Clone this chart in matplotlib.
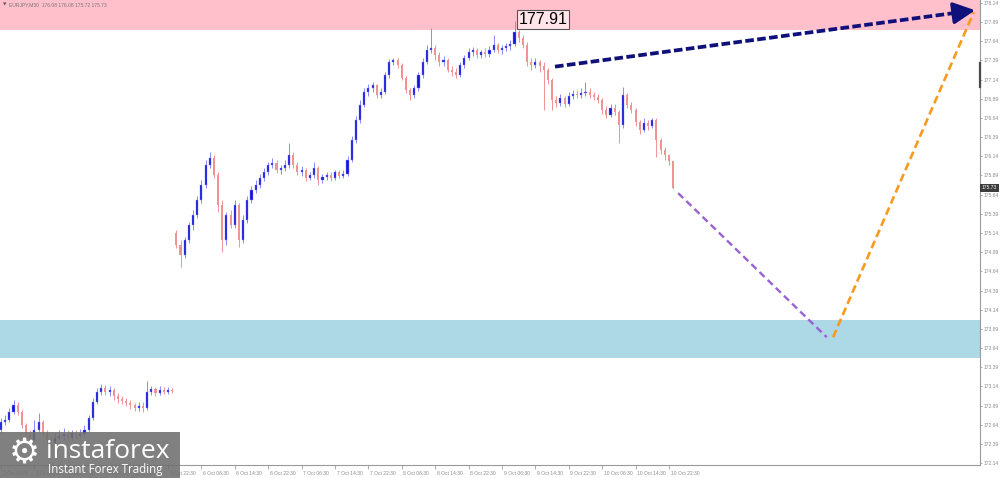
import numpy as np
import matplotlib
matplotlib.use("Agg")
import matplotlib.pyplot as plt
from matplotlib.patches import Rectangle
from matplotlib.transforms import blended_transform_factory, offset_copy

header_text = "EURJPY,M30  176.08 176.08 175.72 175.73"

# hourly bars; bar 0 = 3 Oct 22:30, bars before it are Thursday/Friday
friday_open = 172.57
friday_close = [172.67, 172.70, 172.81, 172.90, 172.81, 172.64, 172.53, 172.44, 172.57, 172.67,
                172.53, 172.44, 172.40, 172.47, 172.49, 172.52, 172.47, 172.53, 172.49, 172.52,
                172.57, 172.73, 172.94, 173.07, 173.12, 173.07, 173.09, 173.01, 172.97, 172.95,
                172.92, 172.90, 172.86, 172.88, 172.86, 173.07, 173.11, 173.05, 173.09, 173.07,
                173.09, 173.08]
friday_high = [172.73, 172.77, 172.86, 172.96, 172.94, 172.83, 172.66, 172.57, 172.70, 172.79,
               172.70, 172.57, 172.49, 172.53, 172.57, 172.60, 172.57, 172.57, 172.57, 172.58,
               172.64, 172.77, 172.99, 173.12, 173.17, 173.16, 173.14, 173.12, 173.05, 173.01,
               172.99, 172.96, 172.92, 172.94, 172.94, 173.21, 173.14, 173.13, 173.14, 173.13,
               173.13, 173.12]
friday_low = [172.53, 172.64, 172.67, 172.78, 172.77, 172.60, 172.49, 172.40, 172.41, 172.54,
              172.49, 172.39, 172.35, 172.38, 172.44, 172.44, 172.43, 172.44, 172.45, 172.47,
              172.48, 172.54, 172.70, 172.91, 173.03, 173.03, 173.01, 172.96, 172.92, 172.91,
              172.88, 172.85, 172.82, 172.82, 172.81, 172.83, 173.03, 173.01, 173.03, 173.04,
              173.04, 173.05]

# 6 Oct 00:30 onwards (gap up on Monday open)
week_open = 175.14
week_close = [174.98, 174.85, 175.05, 175.24, 175.38, 175.57, 175.77, 176.03, 176.12, 175.90,
              175.51, 175.05, 175.38, 175.24, 175.51, 175.05, 175.31, 175.57, 175.70, 175.77,
              175.86, 175.94, 176.03, 176.05, 175.96, 175.99, 176.03, 176.16, 176.03, 175.94,
              175.96, 175.86, 175.90, 175.99, 175.83, 175.87, 175.90, 175.86, 175.94, 175.88,
              175.91, 176.09, 176.35, 176.61, 176.81, 176.98, 177.03, 177.07, 176.94, 176.98,
              177.20, 177.37, 177.40, 177.33, 177.16, 177.01, 176.94, 177.03, 177.20, 177.37,
              177.53, 177.55, 177.46, 177.37, 177.40, 177.27, 177.24, 177.20, 177.33, 177.42,
              177.50, 177.53, 177.46, 177.50, 177.47, 177.53, 177.59, 177.53, 177.55, 177.58,
              177.61, 177.76, 177.68, 177.59, 177.37, 177.33, 177.37, 177.32, 177.27, 177.14,
              176.88, 176.84, 176.90, 176.82, 176.93, 176.95, 176.94, 176.97, 176.98, 176.94,
              176.91, 176.88, 176.74, 176.68, 176.77, 176.72, 176.55, 176.94, 176.81, 176.74,
              176.59, 176.48, 176.58, 176.54, 176.61, 176.35, 176.22, 176.16, 176.08, 175.73]
week_high = [175.18, 175.05, 175.09, 175.28, 175.44, 175.62, 175.83, 176.09, 176.20, 176.16,
             175.94, 175.57, 175.41, 175.44, 175.57, 175.53, 175.38, 175.62, 175.75, 175.83,
             175.91, 175.99, 176.07, 176.12, 176.09, 176.03, 176.09, 176.31, 176.20, 176.07,
             176.01, 175.99, 175.94, 176.07, 176.01, 175.91, 175.94, 175.94, 175.96, 175.96,
             175.96, 176.14, 176.41, 176.67, 176.88, 177.03, 177.08, 177.11, 177.08, 177.03,
             177.24, 177.41, 177.42, 177.42, 177.36, 177.19, 177.03, 177.07, 177.24, 177.42,
             177.59, 177.81, 177.59, 177.50, 177.45, 177.42, 177.32, 177.29, 177.37, 177.46,
             177.55, 177.57, 177.55, 177.53, 177.55, 177.58, 177.72, 177.62, 177.59, 177.62,
             177.66, 177.91, 177.79, 177.72, 177.63, 177.42, 177.42, 177.40, 177.37, 177.29,
             177.16, 176.93, 176.95, 176.93, 176.98, 177.01, 177.01, 177.03, 177.11, 177.03,
             176.98, 176.95, 176.90, 176.80, 176.82, 176.82, 176.74, 177.04, 176.97, 176.85,
             176.77, 176.61, 176.64, 176.61, 176.64, 176.64, 176.38, 176.26, 176.17, 176.08]
week_low = [174.94, 174.70, 174.81, 175.01, 175.18, 175.34, 175.53, 175.73, 175.99, 175.86,
            175.41, 174.89, 174.98, 175.21, 175.21, 174.96, 175.01, 175.27, 175.53, 175.66,
            175.73, 175.82, 175.90, 175.99, 175.92, 175.91, 175.95, 175.99, 175.99, 175.90,
            175.88, 175.82, 175.83, 175.86, 175.77, 175.79, 175.83, 175.82, 175.83, 175.86,
            175.86, 175.88, 176.07, 176.31, 176.58, 176.78, 176.93, 176.98, 176.90, 176.90,
            176.95, 177.16, 177.33, 177.29, 177.14, 176.97, 176.88, 176.90, 176.99, 177.16,
            177.34, 177.49, 177.40, 177.32, 177.32, 177.24, 177.19, 177.16, 177.17, 177.29,
            177.40, 177.45, 177.42, 177.42, 177.44, 177.44, 177.50, 177.49, 177.47, 177.51,
            177.53, 177.58, 177.63, 177.55, 177.32, 177.27, 177.29, 177.24, 176.74, 177.08,
            176.74, 176.78, 176.80, 176.78, 176.80, 176.89, 176.90, 176.90, 176.93, 176.90,
            176.88, 176.84, 176.69, 176.64, 176.65, 176.68, 176.31, 176.51, 176.77, 176.71,
            176.54, 176.43, 176.46, 176.48, 176.51, 176.13, 176.17, 176.09, 176.03, 175.72]

# resistance / support zones
resist_zone = (177.79, 178.25)
support_zone = (173.51, 174.00)

# forecast paths (bar index, price)
arrow_bars = [92.7, 194.0]
arrow_prices = [177.31, 178.05]
purple_bars = [122.2, 157.8]
purple_prices = [175.66, 173.78]
orange_bars = [159.3, 193.0]
orange_prices = [173.78, 178.02]

last_price = 175.73
peak_label = "177.91"
peak_bar = 83

tick_bars = list(range(-40, 121, 8))
tick_labels = ["2 Oct 2025", "2 Oct 14:30", "2 Oct 22:30", "3 Oct 06:30", "3 Oct 14:30",
               "3 Oct 22:30", "6 Oct 06:30", "6 Oct 14:30", "6 Oct 22:30", "7 Oct 06:30",
               "7 Oct 14:30", "7 Oct 22:30", "8 Oct 06:30", "8 Oct 14:30", "8 Oct 22:30",
               "9 Oct 06:30", "9 Oct 14:30", "9 Oct 22:30", "10 Oct 06:30", "10 Oct 14:30",
               "10 Oct 22:30"]
price_ticks = [178.14, 177.89, 177.64, 177.39, 177.14, 176.89, 176.64, 176.39, 176.14,
               175.89, 175.64, 175.39, 175.14, 174.89, 174.64, 174.39, 174.14, 173.89,
               173.64, 173.39, 173.14, 172.89, 172.64, 172.39, 172.14]

UP_BODY = "#1414d8"
UP_WICK = "#8a8aff"
DOWN = "#f19393"
GREY = "#8c8c8c"
SMALL = dict(family="Liberation Sans", size=3.6)

fig = plt.figure(figsize=(10, 4.78), dpi=100)
ax = fig.add_axes([0.0, 13 / 478, 0.98, 465 / 478])
ax.set_xlim(-40.24, 194.5)
ax.set_ylim(172.114, 178.179)

ax.axhspan(*resist_zone, color="#ffc0cb", lw=0, zorder=0)
ax.axhspan(*support_zone, color="#add8e6", lw=0, zorder=0)


def draw_candles(start, first_open, closes, highs, lows):
    closes = np.asarray(closes)
    opens = np.concatenate([[first_open], closes[:-1]])
    xs = np.arange(start, start + len(closes))
    up = closes >= opens
    bottoms = np.minimum(opens, closes)
    heights = np.maximum(np.abs(closes - opens), 0.012)
    wick_col = np.where(up, UP_WICK, DOWN)
    ax.vlines(xs, lows, highs, colors=wick_col, lw=0.7, zorder=2)
    ax.bar(xs[up], heights[up], bottom=bottoms[up], width=0.5,
           color=UP_BODY, edgecolor=UP_WICK, lw=0.3, zorder=3)
    ax.bar(xs[~up], heights[~up], bottom=bottoms[~up], width=0.5,
           color=DOWN, lw=0, zorder=3)


draw_candles(-40, friday_open, friday_close, friday_high, friday_low)
draw_candles(2, week_open, week_close, week_high, week_low)

# forecast lines
ax.plot(purple_bars, purple_prices, color="#9a62d0", lw=1.7, dashes=(3.0, 1.8), zorder=4)
ax.plot(orange_bars, orange_prices, color="#f79a1e", lw=1.9, dashes=(3.0, 1.6), zorder=4)
ax.plot([arrow_bars[0], arrow_bars[1] - 3.5],
        [arrow_prices[0], arrow_prices[1] - 0.025], color="#10107a", lw=2.7,
        dashes=(2.3, 0.9), zorder=5)
ax.annotate("", xy=(arrow_bars[1], arrow_prices[1]),
            xytext=(arrow_bars[1] - 5, arrow_prices[1] - 0.036),
            arrowprops=dict(arrowstyle="-|>,head_length=1.1,head_width=0.55",
                            color="#10107a", lw=2.5, mutation_scale=12), zorder=5)

# peak label
ax.text(peak_bar + 1.0, 177.92, peak_label, fontsize=11.5, family="Liberation Sans",
        ha="left", va="center", color="black", zorder=6,
        bbox=dict(boxstyle="square,pad=0.12", fc=(1, 1, 1, 0.6), ec="#555555", lw=0.8))

# axes styling
for side in ("left", "top"):
    ax.spines[side].set_visible(False)
for side in ("right", "bottom"):
    ax.spines[side].set_color("#9a9a9a")
    ax.spines[side].set_linewidth(0.8)

ax.yaxis.tick_right()
ax.set_yticks(price_ticks)
ax.set_yticklabels([f"{p:.2f}" for p in price_ticks], **SMALL)
ax.tick_params(axis="y", length=1.5, width=0.5, pad=0.8, colors=GREY)

ax.set_xticks(tick_bars)
ax.set_xticklabels(tick_labels, **SMALL)
ax.tick_params(axis="x", length=3, width=0.5, pad=1.2, colors=GREY)
for lab in ax.get_xticklabels():
    lab.set_horizontalalignment("left")
    lab.set_transform(offset_copy(lab.get_transform(), fig=fig, x=1.2, y=0, units="points"))

# current price box on the right scale
trans = blended_transform_factory(ax.transAxes, ax.transData)
ax.text(1.002, last_price, f"{last_price:.2f}", transform=trans, color="white",
        ha="left", va="center", zorder=7,
        bbox=dict(boxstyle="square,pad=0.3", fc="#3c3c3c", ec="none"), **SMALL)
ax.plot([1.0, 1.0], [177.05, 177.36], transform=trans, color="#4a4a4a", lw=1.6,
        clip_on=False, zorder=7)

# symbol header
fig.text(0.003, 1 - 5 / 478, "\u25bc", fontsize=3.2, color="#555555", va="center")
fig.text(0.009, 1 - 5 / 478, header_text, color="#777777", va="center", **SMALL)

# watermark logo
fig.add_artist(Rectangle((0, 0), 0.18, 46 / 478, transform=fig.transFigure,
                         facecolor="#6f6f6f", alpha=0.88, edgecolor="none", zorder=10))
fig.text(0.024, 1 - 453 / 478, "\u2699", fontsize=25, color="white", ha="center",
         va="center", zorder=11)
fig.text(0.046, 1 - 452 / 478, "instaforex", fontsize=19, color="white",
         family="Open Sans", ha="left", va="center", zorder=11)
fig.text(0.048, 1 - 470 / 478, "Instant Forex Trading", fontsize=8.3, color="white",
         family="Open Sans", ha="left", va="center", zorder=11)

fig.savefig("out.png", dpi=100)
